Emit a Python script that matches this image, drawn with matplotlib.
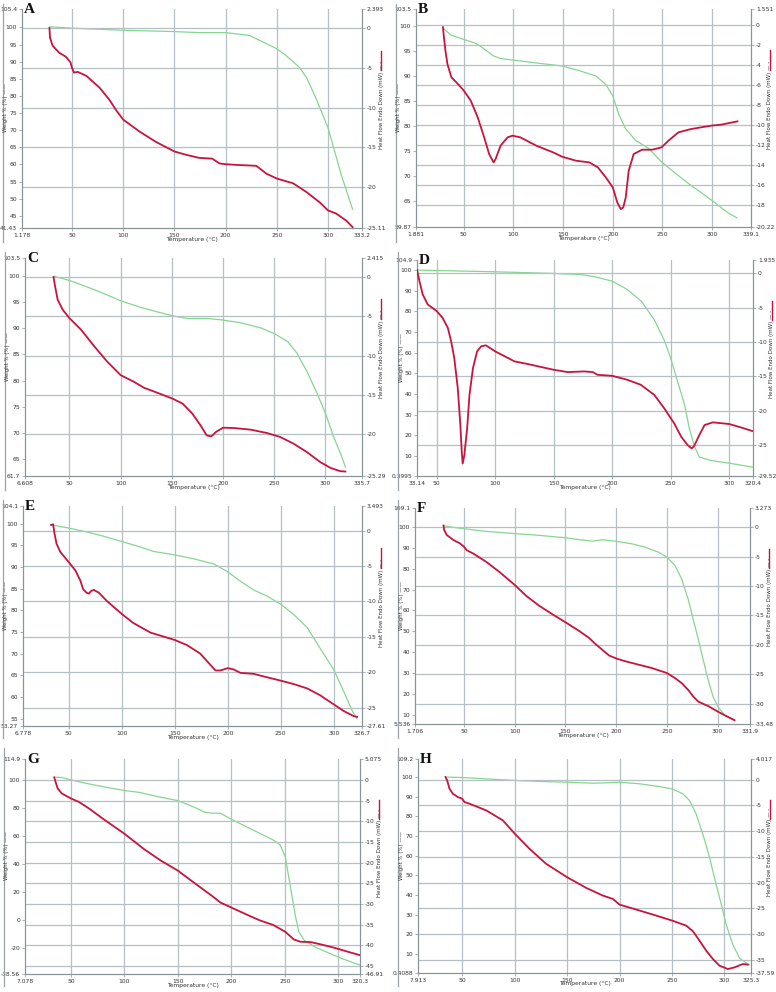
import matplotlib
matplotlib.use("Agg")
import matplotlib.pyplot as plt
from matplotlib.lines import Line2D

W, H = 776, 992
RED = "#c8143c"
GREEN = "#86d690"
GRID = "#b4c0c4"
SPINE = "#8a9498"

# ---- panel data: temperature (°C), weight % (green, left) and heat flow mW (red, right)
A_T_WT = [28, 50, 100, 150, 174, 200, 223, 250, 257, 272, 279, 288, 300, 313, 324]
A_WT = [100.2, 99.8, 99.2, 98.8, 98.5, 98.5, 97.7, 93.8, 92.3, 88.4, 85.4, 79.5, 70.7, 56.9, 46.9]
A_T_HF = [28, 28.5, 31, 37.5, 44, 48.5, 50, 52, 55.5, 64, 77, 86.5, 93, 100, 116, 132, 150, 161,
          174, 187, 194, 200, 213, 230, 240, 250, 266, 279, 292, 300, 308, 318, 324]
A_HF = [0, -1.2, -2.2, -3.1, -3.6, -4.3, -5.0, -5.6, -5.5, -6.0, -7.5, -9.0, -10.3, -11.5, -13.0,
        -14.3, -15.5, -15.9, -16.3, -16.4, -17.0, -17.1, -17.2, -17.3, -18.3, -18.9, -19.5, -20.6,
        -21.9, -22.9, -23.3, -24.2, -25.0]

B_T_WT = [30, 37, 50, 61, 67, 74, 80, 87, 99, 123, 149, 167, 183, 193, 200, 206, 213, 223, 236,
          249, 263, 276, 299, 316, 325]
B_WT = [99.5, 98.3, 97.4, 96.7, 96.0, 95.0, 94.1, 93.6, 93.3, 92.7, 92.1, 91.1, 90.1, 88.4, 86.1,
        82.4, 79.5, 77.2, 75.6, 72.9, 70.6, 68.6, 65.3, 62.7, 61.7]
B_T_HF = [29, 30, 31.5, 33.5, 37.5, 44, 50, 57, 64, 70.5, 75.5, 80, 82, 87, 94, 99, 107, 123, 140,
          149, 163, 176.5, 185, 193, 200, 204.5, 208, 210.5, 213, 216, 221, 229.5, 239.5, 249, 256,
          266, 279, 299, 309, 325.5]
B_HF = [-0.27, -1.27, -2.6, -3.93, -5.27, -5.93, -6.6, -7.6, -9.27, -11.27, -12.93, -13.77, -13.43,
        -12.1, -11.27, -11.1, -11.27, -12.1, -12.77, -13.2, -13.6, -13.77, -14.27, -15.27, -16.27,
        -17.77, -18.43, -18.27, -17.27, -14.6, -12.93, -12.5, -12.5, -12.27, -11.6, -10.77, -10.43,
        -10.1, -10.0, -9.67]

C_T_WT = [35, 50, 68, 81, 100, 120, 139, 151, 165, 185, 200, 217, 237, 250, 263, 272, 282, 292,
          300, 308, 315, 319.5]
C_WT = [100, 99.2, 97.9, 96.9, 95.3, 94.0, 93.0, 92.4, 91.9, 91.9, 91.6, 91.1, 90.1, 89.0, 87.5,
        85.3, 81.7, 77.5, 73.7, 69.2, 65.9, 63.4]
C_T_HF = [34.5, 36, 38.5, 43.5, 50, 61.5, 74.5, 87, 100, 113, 123, 136, 150.5, 160.5, 170, 178, 184,
          188.5, 193, 200, 210.5, 227, 243, 256, 269, 282, 295, 305, 314.5, 319.5]
C_HF = [0, -1.19, -2.89, -4.17, -5.23, -6.72, -8.85, -10.77, -12.47, -13.32, -14.09, -14.72, -15.45,
        -16.09, -17.36, -18.85, -20.13, -20.26, -19.7, -19.15, -19.19, -19.4, -19.83, -20.34, -21.19,
        -22.26, -23.53, -24.26, -24.68, -24.72]

D_T_WT = [34, 51, 100, 150, 173, 185, 200, 213, 225, 236, 245, 250, 256, 262, 266, 270, 274.5,
          284.5, 300, 320]
D_WT = [100, 99.8, 99.2, 98.4, 97.9, 96.8, 94.7, 90.6, 84.9, 76.0, 65.5, 57.4, 46.0, 34.7, 23.3,
        15.2, 9.6, 7.9, 6.6, 4.7]
D_T_HF = [33.2, 35.2, 38, 42.3, 50, 55, 59.5, 62.3, 65, 68, 70.2, 71.4, 72.2, 73.6, 76, 78, 81,
          84.5, 88, 92, 100, 116.5, 128, 150, 162, 176, 183.5, 187.5, 200, 213, 224.5, 236, 244.5,
          253, 259, 264.5, 268, 270, 274.5, 279, 286, 300, 310, 320]
D_HF = [0.49, -1.12, -3.07, -4.54, -5.51, -6.49, -7.95, -9.9, -12.34, -16.73, -22.1, -26.0, -27.71,
        -26.49, -22.59, -17.71, -13.8, -11.37, -10.63, -10.49, -11.37, -12.83, -13.22, -14.05,
        -14.39, -14.29, -14.39, -14.78, -14.93, -15.51, -16.24, -17.71, -19.66, -21.85, -23.8,
        -25.02, -25.51, -25.17, -23.56, -22.1, -21.71, -21.95, -22.44, -22.98]

E_T_WT = [36, 50, 67, 80, 100, 118, 130, 150, 168, 187, 200, 212, 224.5, 237, 250, 262, 275, 287,
          300, 309.5, 317, 322]
E_WT = [99.6, 99.0, 98.1, 97.3, 95.9, 94.6, 93.6, 92.8, 91.9, 90.7, 88.9, 86.7, 84.7, 83.3, 81.4,
        79.1, 76.0, 71.3, 66.3, 61.2, 57.0, 54.9]
E_T_HF = [33.3, 35.2, 36.5, 38.4, 42, 50, 56.3, 61, 63.5, 66.7, 69, 71, 73.6, 78.3, 86, 100, 111,
          127, 150, 161.5, 174, 183.5, 188.5, 193, 200, 205.7, 212, 224.5, 237, 250, 262, 275, 287,
          300, 309.5, 319, 322]
E_HF = [0.81, 0.91, -0.38, -1.82, -3.01, -4.45, -5.65, -7.08, -8.28, -8.76, -8.9, -8.52, -8.37, -8.76,
        -9.95, -11.77, -13.06, -14.4, -15.45, -16.17, -17.37, -18.95, -19.76, -19.76, -19.43, -19.62,
        -20.1, -20.24, -20.72, -21.2, -21.67, -22.3, -23.25, -24.55, -25.5, -26.22, -26.32]

F_T_WT = [30.4, 39.6, 50, 62.4, 72, 100.6, 124, 150.5, 163.5, 176.6, 186, 200.4, 215.7, 228.8, 241.8,
          250, 258, 264.6, 271, 276, 281, 285.8, 290.7, 295.6, 300.5, 307, 316.7]
F_WT = [100.5, 99.8, 99.2, 98.4, 97.9, 96.8, 96.0, 94.8, 93.9, 93.2, 93.9, 93.1, 91.9, 90.3, 87.9,
        85.5, 81.5, 75.0, 65.3, 55.6, 46.0, 36.3, 26.6, 18.5, 13.7, 9.7, 7.3]
F_T_HF = [29.8, 30.4, 33, 39.6, 46, 50, 52.6, 59, 72, 85, 100.6, 111, 124, 137, 150.5, 163.5, 173,
          180, 186, 193, 200.4, 209, 222, 235, 250, 258, 264.6, 271, 276, 281, 290.7, 300.5, 310,
          316.7]
F_HF = [0.29, -0.46, -1.32, -2.18, -2.75, -3.32, -3.9, -4.47, -5.9, -7.62, -9.91, -11.63, -13.35,
        -14.79, -16.22, -17.65, -18.8, -19.94, -20.8, -21.83, -22.35, -22.81, -23.38, -23.95, -24.81,
        -25.67, -26.53, -27.68, -28.82, -29.68, -30.43, -31.4, -32.26, -32.84]

G_T_WT = [36, 41.4, 50, 63.7, 79.7, 100, 114.8, 130.7, 150, 162.6, 175.4, 181.8, 189.8, 200, 213.7,
          226.5, 239.2, 245.6, 250.4, 253.6, 256.8, 260, 263, 268, 277.5, 290.3, 303, 315.8, 321.5]
G_WT = [101.9, 101.7, 100, 97.6, 95.2, 92.4, 91.0, 88.1, 85.2, 81.4, 76.9, 76.2, 76.2, 71.9, 66.7,
        61.9, 57.1, 53.6, 45.2, 31.0, 16.7, 2.4, -8.3, -14.3, -19.0, -23.3, -27.4, -31.0, -32.4]
G_T_HF = [34.4, 35.6, 37.6, 41.4, 50, 57.3, 67, 79.7, 100, 118, 134, 150, 162.6, 175.4, 181.8,
          189.8, 200, 213.7, 226.5, 239.2, 250.4, 258.4, 264.7, 274.3, 284, 296.6, 309.4, 321.5]
G_HF = [0.65, -0.41, -2.03, -3.25, -4.46, -5.28, -6.9, -9.33, -12.99, -16.64, -19.48, -21.92, -24.35,
        -26.79, -28.0, -29.63, -30.84, -32.47, -33.93, -35.06, -36.69, -38.56, -39.12, -39.2, -39.77,
        -40.58, -41.56, -42.45]

H_T_WT = [34.7, 50, 72.9, 100.2, 123.7, 150, 174.6, 187.3, 200, 219, 238, 250.2, 260.4, 266.7, 273,
          279.4, 285.8, 292, 297, 301.7, 308, 314.4, 320.7, 324]
H_WT = [100, 99.8, 99.1, 98.3, 97.8, 97.4, 96.9, 97.1, 97.4, 96.6, 95.2, 94.0, 91.5, 88.1, 81.3,
        71.0, 59.1, 45.5, 35.3, 25.0, 14.8, 8.0, 5.5, 4.6]
H_T_HF = [34.1, 35.7, 37.9, 41.1, 45.9, 50, 52.2, 57, 72.9, 88.8, 100.2, 114.2, 130, 150, 168.2,
          184, 193.6, 200, 216, 231.8, 250.2, 263.5, 270, 276.2, 282.6, 289, 295.3, 303.3, 309.6,
          317.6, 322.3]
H_HF = [0.52, -0.13, -1.75, -2.73, -3.38, -3.7, -4.35, -4.68, -5.97, -7.92, -10.52, -13.44, -16.36,
        -18.96, -21.04, -22.53, -23.18, -24.29, -25.26, -26.23, -27.4, -28.38, -29.48, -31.3, -33.25,
        -34.87, -36.17, -36.82, -36.49, -35.84, -35.97]

# axis ranges (the instrument prints the exact limits as corner labels)
X_LIMS = {"A": ("1.178", "333.2"), "B": ("1.881", "339.1"), "C": ("6.608", "335.7"),
          "D": ("33.14", "320.4"), "E": ("6.778", "326.7"), "F": ("1.706", "331.9"),
          "G": ("7.078", "320.3"), "H": ("7.913", "325.3")}
WT_LIMS = {"A": ("41.43", "105.4"), "B": ("59.87", "103.5"), "C": ("61.7", "103.5"),
           "D": ("0.3995", "104.9"), "E": ("53.27", "104.1"), "F": ("5.536", "109.1"),
           "G": ("-38.56", "114.9"), "H": ("0.4088", "109.2")}
HF_LIMS = {"A": ("-25.11", "2.393"), "B": ("-20.22", "1.551"), "C": ("-25.29", "2.415"),
           "D": ("-29.52", "1.935"), "E": ("-27.61", "3.493"), "F": ("-33.48", "3.273"),
           "G": ("-46.91", "5.075"), "H": ("-37.59", "4.017")}
WT_TICKS = {"A": list(range(45, 101, 5)), "B": list(range(65, 101, 5)), "C": list(range(65, 101, 5)),
            "D": list(range(10, 101, 10)), "E": list(range(55, 101, 5)), "F": list(range(10, 101, 10)),
            "G": list(range(-20, 101, 20)), "H": list(range(10, 101, 10))}
HF_TICKS = {"A": list(range(-20, 1, 5)), "B": list(range(-18, 1, 2)), "C": list(range(-20, 1, 5)),
            "D": list(range(-25, 1, 5)), "E": list(range(-25, 1, 5)), "F": list(range(-30, 1, 5)),
            "G": list(range(-45, 1, 5)), "H": list(range(-35, 1, 5))}
X_TICKS = [50, 100, 150, 200, 250, 300]

DATA = {"A": (A_T_WT, A_WT, A_T_HF, A_HF), "B": (B_T_WT, B_WT, B_T_HF, B_HF),
        "C": (C_T_WT, C_WT, C_T_HF, C_HF), "D": (D_T_WT, D_WT, D_T_HF, D_HF),
        "E": (E_T_WT, E_WT, E_T_HF, E_HF), "F": (F_T_WT, F_WT, F_T_HF, F_HF),
        "G": (G_T_WT, G_WT, G_T_HF, G_HF), "H": (H_T_WT, H_WT, H_T_HF, H_HF)}

# layout in pixels: axes (left, top, right, bottom) and frame line x
RECTS = {"A": (22, 9, 362, 228), "B": (416, 9, 751, 227), "C": (25, 258, 362, 476),
         "D": (417, 260, 753, 476), "E": (23, 506, 362, 726), "F": (415, 508, 750, 724),
         "G": (25, 759, 360, 974), "H": (418, 759, 751, 973)}
FRAMES = {"A": (3, 4, 242), "B": (396, 4, 242), "C": (5, 252, 490), "D": (398, 252, 490),
          "E": (3, 500, 738), "F": (398, 500, 738), "G": (4, 748, 986), "H": (398, 748, 986)}

FS = 4.3


def fx(px):
    return px / W


def fy(py):
    return 1 - py / H


def limited_ticks(ax_set_ticks, ax_set_lim, lims, ticks):
    lo, hi = float(lims[0]), float(lims[1])
    ax_set_lim(lo, hi)
    ax_set_ticks([lo] + ticks + [hi], [lims[0]] + [f"{t:g}" for t in ticks] + [lims[1]])


def draw_panel(fig, key):
    l, t, r, b = RECTS[key]
    ax = fig.add_axes([fx(l), fy(b), (r - l) / W, (b - t) / H])
    ax2 = ax.twinx()
    t_wt, wt, t_hf, hf = DATA[key]

    limited_ticks(ax.set_xticks, ax.set_xlim, X_LIMS[key], X_TICKS)
    limited_ticks(ax.set_yticks, ax.set_ylim, WT_LIMS[key], WT_TICKS[key])
    limited_ticks(ax2.set_yticks, ax2.set_ylim, HF_LIMS[key], HF_TICKS[key])

    for x in X_TICKS:
        ax.axvline(x, color=GRID, lw=0.9, zorder=0)
    for y in HF_TICKS[key]:
        ax2.axhline(y, color=GRID, lw=0.9, zorder=0)

    ax.plot(t_wt, wt, color=GREEN, lw=0.9, zorder=3)
    ax2.plot(t_hf, hf, color=RED, lw=1.3, zorder=3)

    for a in (ax, ax2):
        a.tick_params(labelsize=FS, length=2, width=0.5, color=SPINE, pad=1.5, labelcolor="#333333")
        a.spines["top"].set_visible(False)
        for s in ("left", "right", "bottom"):
            a.spines[s].set_color(SPINE)
            a.spines[s].set_linewidth(0.8)

    cy = t + 0.45 * (b - t)
    fig.text(fx((l + r) / 2), fy(b + 11), "Temperature (°C)", fontsize=FS, ha="center", va="center",
             color="#333333")
    x0, y0, y1 = FRAMES[key]
    fig.text(fx(x0 + 3), fy(cy), "Weight % (%) \u2014\u2014", fontsize=FS - 0.4, rotation=90,
             ha="center", va="center", color="#333333")
    fig.text(fx(r + 19), fy(t + 0.64 * (b - t)), "Heat Flow Endo Down (mW) \u2014 -", fontsize=FS - 0.3,
             rotation=90, ha="center", va="bottom", color="#333333")
    fig.add_artist(Line2D([fx(r + 19)] * 2, [fy(t + 0.19 * (b - t)), fy(t + 0.28 * (b - t))],
                          color=RED, lw=1.0, transform=fig.transFigure))
    fig.add_artist(Line2D([fx(x0)] * 2, [fy(y0), fy(y1)], color="#9aa2a6", lw=0.9,
                          transform=fig.transFigure))
    fig.text(fx(l + 2), fy(t - 6), key, fontsize=11, fontweight="bold", family="Liberation Serif",
             ha="left", va="top", color="#111111")


fig = plt.figure(figsize=(W / 100, H / 100), dpi=100)
for k in "ABCDEFGH":
    draw_panel(fig, k)
fig.savefig("out.png", dpi=100)
